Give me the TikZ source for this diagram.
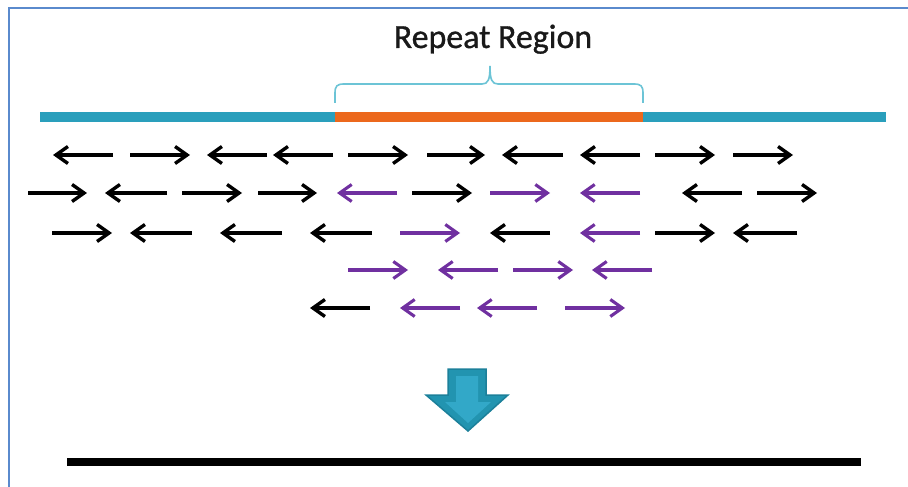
\documentclass[tikz,border=0pt]{standalone}
\usepackage{fontspec}
\setmainfont{Carlito}
\newfontfamily\titlefont{Carlito}[FakeBold=0.9]
\usetikzlibrary{arrows.meta}
\definecolor{tealbar}{RGB}{42,159,188}
\definecolor{orangebar}{RGB}{236,104,28}
\definecolor{bracecol}{RGB}{108,196,214}
\definecolor{purp}{RGB}{112,48,160}
\definecolor{framecol}{RGB}{90,138,205}
\definecolor{arrowdark}{RGB}{28,128,154}
\definecolor{arrowmid}{RGB}{34,148,176}
\definecolor{arrowlight}{RGB}{50,168,200}
\definecolor{txt}{RGB}{25,25,25}
\tikzset{
  rd/.style={-{Straight Barb[length=12bp,width=17bp]}},
  kk/.style={draw=black, line width=3.4bp},
  pp/.style={draw=purp, line width=3.1bp},
  barseg/.style={line width=10bp},
}
\begin{document}
\begin{tikzpicture}[x=1bp,y=-1bp]
\useasboundingbox (0,0) rectangle (908,487);
\fill[white] (0,0) rectangle (908,487);
% frame
\draw[framecol, line width=2bp] (9,487) -- (9,8) -- (908,8);
% title
\node[anchor=base, font=\titlefont\fontsize{34}{40}\selectfont, text=txt, inner sep=0pt] (title) at (493,48) {Repeat Region};
% brace
\draw[bracecol, line width=1.6bp] (335,103) -- (335,93) .. controls (335,86) and (337,84) .. (344,84) -- (482,84) .. controls (488,84) and (490,80) .. (490,66) .. controls (490,80) and (492,84) .. (498,84) -- (634,84) .. controls (641,84) and (643,86) .. (643,93) -- (643,103);
% sequence bar
\draw[tealbar, barseg] (40,117) -- (335,117);
\draw[orangebar, barseg] (335,117) -- (643,117);
\draw[tealbar, barseg] (643,117) -- (886,117);
% reads: start/end/y/style
\foreach \a/\b/\y/\s in {
 113/53/155/kk, 130/190/155/kk, 267/207/155/kk, 333/273/155/kk, 348/408/155/kk,
 427/485/155/kk, 563/502/155/kk, 640/580/155/kk, 655/715/155/kk, 733/793/155/kk,
 28/87/193/kk, 167/105/193/kk, 182/242/193/kk, 258/317/193/kk, 397/337/193/pp,
 412/472/193/kk, 490/550/193/pp, 640/580/193/pp, 742/682/193/kk, 757/817/193/kk,
 52/112/233/kk, 192/130/233/kk, 282/220/233/kk, 372/310/233/kk, 400/460/233/pp,
 550/490/233/kk, 640/580/233/pp, 655/715/233/kk, 797/733/233/kk,
 348/408/270/pp, 498/438/270/pp, 513/573/270/pp, 652/592/270/pp,
 370/310/308/kk, 460/400/308/pp, 537/477/308/pp, 565/625/308/pp}
 { \draw[\s,rd] (\a,\y) -- (\b,\y); }
% down block arrow
\filldraw[fill=arrowmid, draw=arrowdark, line width=1.5bp, line join=miter]
  (448,369) -- (486,369) -- (486,395) -- (508,395) -- (468,431) -- (426,395) -- (448,395) -- cycle;
\fill[arrowlight] (456,376) -- (478,376) -- (478,402) -- (491,402) -- (468,423) -- (445,402) -- (456,402) -- cycle;
% assembled line
\draw[black, line width=8bp] (67,462) -- (861,462);
\end{tikzpicture}
\end{document}
